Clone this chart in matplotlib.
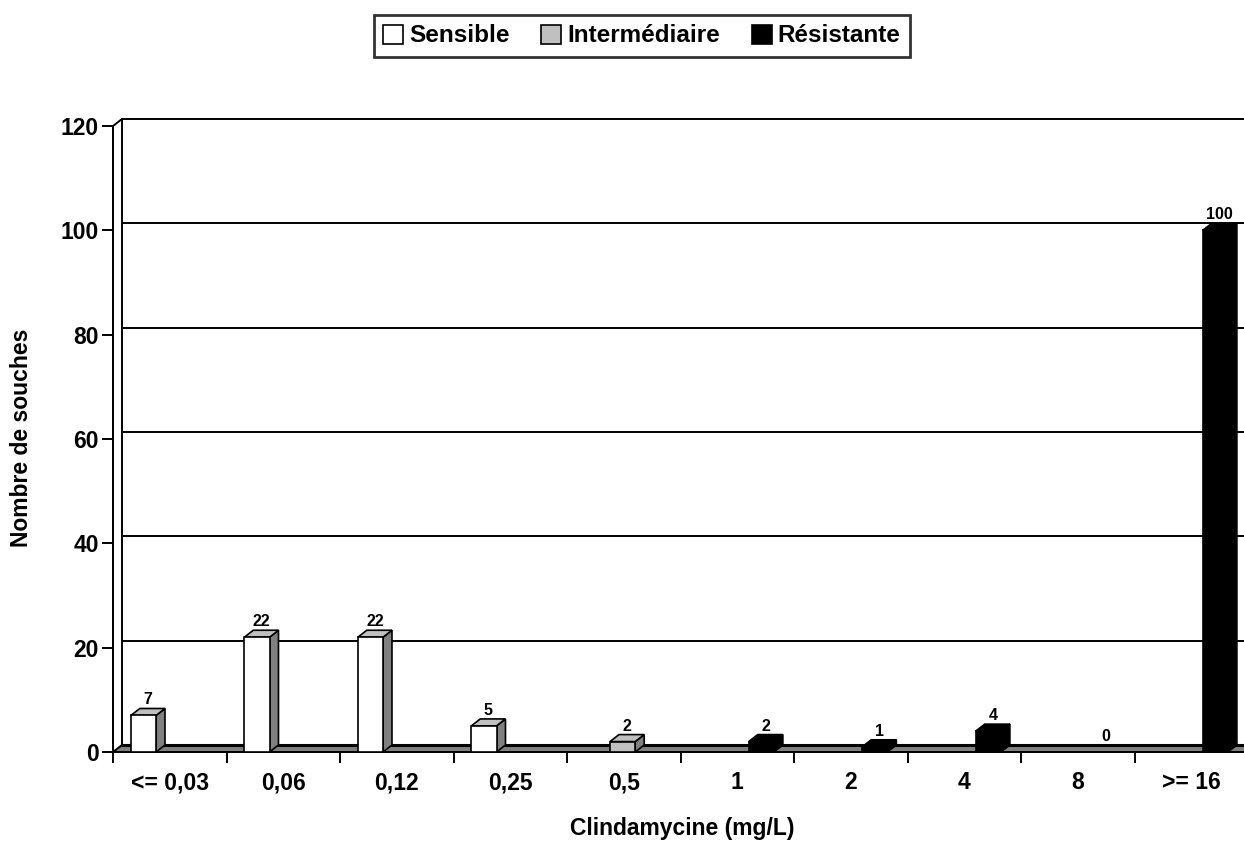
import numpy as np
import matplotlib.pyplot as plt
from matplotlib.patches import Polygon

plt.rcParams['font.family'] = ['Liberation Sans', 'DejaVu Sans']
plt.rcParams['font.weight'] = 'bold'

# === data ===
categories = ['<= 0,03', '0,06', '0,12', '0,25', '0,5', '1', '2', '4', '8', '>= 16']
sensible = [7, 22, 22, 5, 0, 0, 0, 0, 0, 0]
intermediaire = [0, 0, 0, 0, 2, 0, 0, 0, 0, 0]
resistante = [0, 0, 0, 0, 0, 2, 1, 4, 0, 100]
series_names = ['Sensible', 'Intermédiaire', 'Résistante']
# which bar carries a label in each category (series index)
label_series = [0, 0, 0, 0, 1, 2, 2, 2, 2, 2]
yticks = [0, 20, 40, 60, 80, 100, 120]

series = [sensible, intermediaire, resistante]
front_col = ['white', '#c0c0c0', 'black']
top_col = ['#c0c0c0', '#c0c0c0', 'black']
side_col = ['#808080', '#808080', 'black']

fig = plt.figure(figsize=(12.44, 8.44), dpi=100)
ax = fig.add_axes([113 / 1244, 92 / 844, 1135 / 1244, 626 / 844])
ax.set_xlim(0, 10)
ax.set_ylim(0, 120)

dx, dy = 0.079, 1.34   # depth offset (data units)
w = 0.222              # bar width
x0 = 0.157             # first bar offset in category
lw = 1.4

# --- walls & grid ---
ax.plot([0, 0], [0, 120], color='black', lw=lw, clip_on=False, zorder=3)
ax.plot([dx, dx], [dy, 120 + dy], color='black', lw=lw, clip_on=False, zorder=3)
ax.plot([0, dx], [120, 120 + dy], color='black', lw=lw, clip_on=False, zorder=3)
for v in yticks[1:]:
    ax.plot([dx, 10 + dx], [v + dy, v + dy], color='black', lw=lw, clip_on=False, zorder=1)

# floor
floor = Polygon([(0, 0), (10 + dx, 0), (10 + dx, dy), (dx, dy)], closed=True,
                facecolor='#808080', edgecolor='black', lw=lw, clip_on=False, zorder=2)
ax.add_patch(floor)
ax.plot([dx, 10 + dx], [dy, dy], color='black', lw=2.2, clip_on=False, zorder=2)

# --- bars (3D look) ---
for s, vals in enumerate(series):
    for i, v in enumerate(vals):
        x = i + x0 + s * w
        if v > 0:
            front = Polygon([(x, 0), (x + w, 0), (x + w, v), (x, v)],
                            facecolor=front_col[s], edgecolor='black', lw=1.2, zorder=5)
            top = Polygon([(x, v), (x + w, v), (x + w + dx, v + dy), (x + dx, v + dy)],
                          facecolor=top_col[s], edgecolor='black', lw=1.2, zorder=5)
            side = Polygon([(x + w, 0), (x + w + dx, dy), (x + w + dx, v + dy), (x + w, v)],
                           facecolor=side_col[s], edgecolor='black', lw=1.2, zorder=5)
            for p in (side, top, front):
                p.set_clip_on(False)
                ax.add_patch(p)
        if label_series[i] == s:
            ax.text(x + w / 2 + dx / 2, v + dy + 0.2, str(v), ha='center', va='bottom',
                    fontsize=11.5, fontweight='bold', zorder=6)

# --- axes ---
for sp in ['top', 'right']:
    ax.spines[sp].set_visible(False)
ax.spines['left'].set_linewidth(lw)
ax.spines['bottom'].set_linewidth(lw)
ax.spines['bottom'].set_zorder(4)
ax.set_yticks(yticks)
ax.set_yticklabels([str(t) for t in yticks], fontsize=16.5, fontweight='bold')
ax.tick_params(axis='y', length=8, width=lw, pad=2)
ax.set_xticks(np.arange(0, 11))
ax.set_xticklabels([])
ax.tick_params(axis='x', which='major', length=8, width=lw)
ax.set_xticks(np.arange(10) + 0.5, minor=True)
ax.set_xticklabels(categories, minor=True, fontsize=16.5, fontweight='bold')
ax.tick_params(axis='x', which='minor', length=0, pad=14)

fig.text(22 / 1244, 1 - 438 / 844, 'Nombre de souches', rotation=90, ha='center', va='center',
         fontsize=16.5, fontweight='bold')
fig.text(682 / 1244, 1 - 829 / 844, 'Clindamycine (mg/L)', ha='center', va='center',
         fontsize=16.5, fontweight='bold')

# --- legend ---
handles = [plt.Rectangle((0, 0), 1, 1, facecolor=front_col[s], edgecolor='black', lw=1.2)
           for s in range(3)]
leg = fig.legend(handles, series_names, loc='center', bbox_to_anchor=(642 / 1244, 1 - 36 / 844),
                 ncol=3, frameon=True, fancybox=False,
                 handlelength=0.82, handleheight=0.82, handletextpad=0.25, columnspacing=1.3,
                 borderpad=0.4, prop={'weight': 'bold', 'size': 17.5})
leg.get_frame().set_edgecolor('black')
leg.get_frame().set_linewidth(2)

fig.savefig('out.png', dpi=100)
